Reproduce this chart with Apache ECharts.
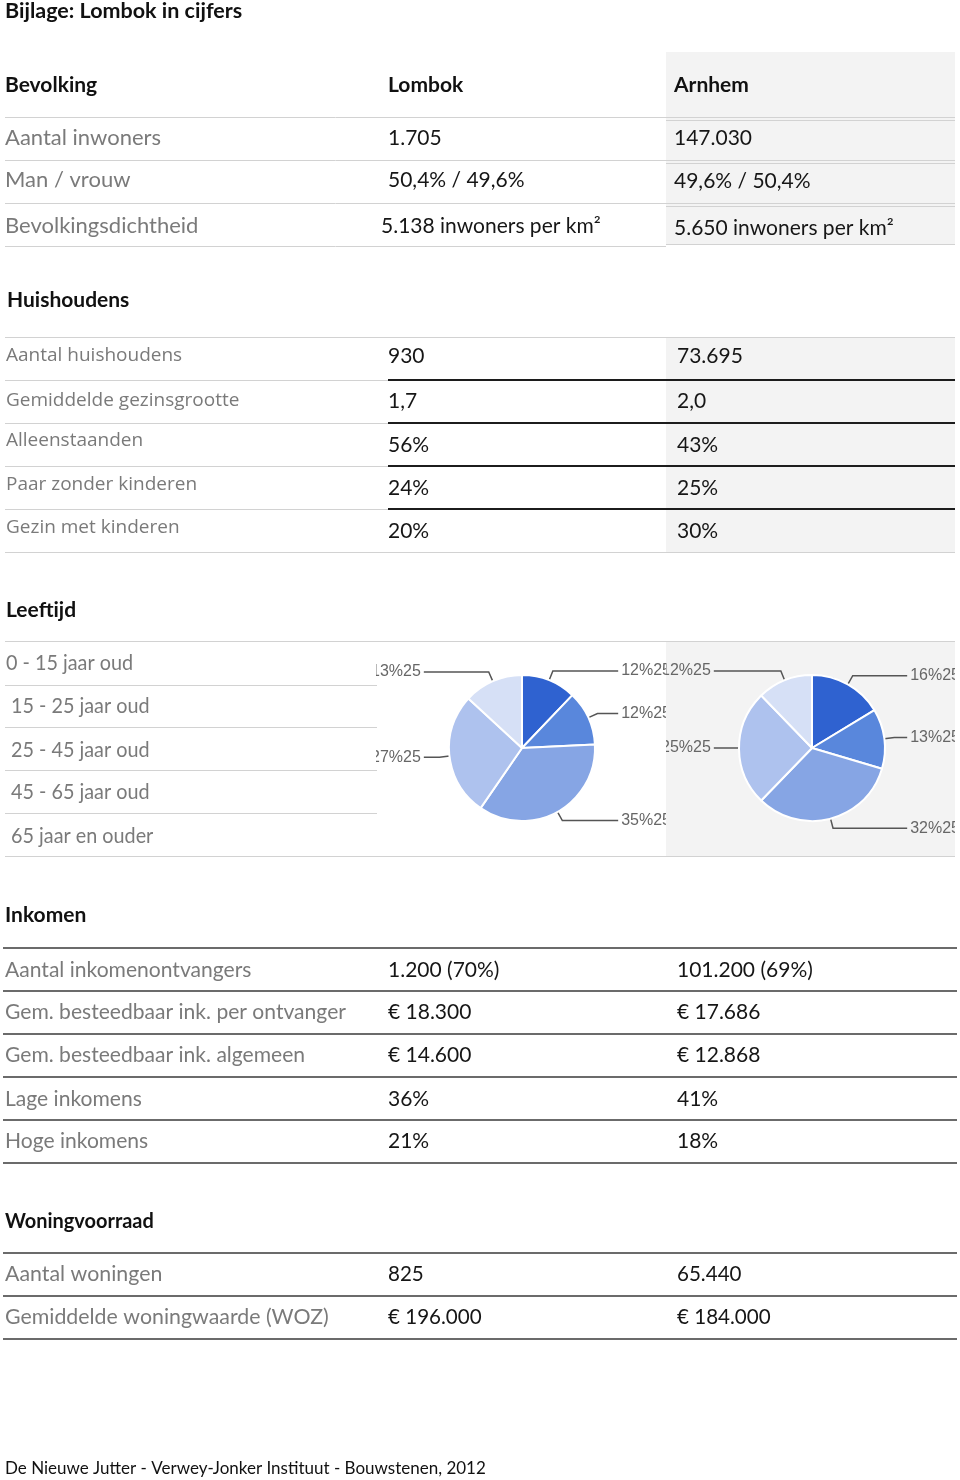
<!DOCTYPE html>
<html>
<head>
<meta charset="utf-8">
<script src="https://cdn.jsdelivr.net/npm/echarts@6/dist/echarts.min.js"></script>
<style>
  body { margin: 0; background: #fff; }
  #page { position: relative; width: 960px; height: 1480px; }
  #sheet { position: absolute; left: 0; top: 0; width: 960px; height: 1480px; }
  #pieLombok { position: absolute; left: 376px; top: 642px; width: 290px; height: 214px; }
  #pieArnhem { position: absolute; left: 666px; top: 642px; width: 289px; height: 214px; background: #f3f3f3; }
</style>
</head>
<body>
<div id="page">
  <div id="sheet"></div>
  <div id="pieLombok"></div>
  <div id="pieArnhem"></div>
</div>
<script>
const pageTitle = 'Bijlage: Lombok in cijfers'
const columnTitles = ['Lombok', 'Arnhem']
const footerText = 'De Nieuwe Jutter - Verwey-Jonker Instituut - Bouwstenen, 2012'

const bevolkingLabels = ['Aantal inwoners', 'Man / vrouw', 'Bevolkingsdichtheid']
const bevolkingLombok = ['1.705', '50,4% / 49,6%', '5.138 inwoners per km²']
const bevolkingArnhem = ['147.030', '49,6% / 50,4%', '5.650 inwoners per km²']

const huishoudensLabels = ['Aantal huishoudens', 'Gemiddelde gezinsgrootte', 'Alleenstaanden', 'Paar zonder kinderen', 'Gezin met kinderen']
const huishoudensLombok = ['930', '1,7', '56%', '24%', '20%']
const huishoudensArnhem = ['73.695', '2,0', '43%', '25%', '30%']

const leeftijdLabels = ['0 - 15 jaar oud', '15 - 25 jaar oud', '25 - 45 jaar oud', '45 - 65 jaar oud', '65 jaar en ouder']
const leeftijdLombok = [12, 12, 35, 27, 13]
const leeftijdArnhem = [16, 13, 32, 25, 12]

const inkomenLabels = ['Aantal inkomenontvangers', 'Gem. besteedbaar ink. per ontvanger', 'Gem. besteedbaar ink. algemeen', 'Lage inkomens', 'Hoge inkomens']
const inkomenLombok = ['1.200 (70%)', '€ 18.300', '€ 14.600', '36%', '21%']
const inkomenArnhem = ['101.200 (69%)', '€ 17.686', '€ 12.868', '41%', '18%']

const woningLabels = ['Aantal woningen', 'Gemiddelde woningwaarde (WOZ)']
const woningLombok = ['825', '€ 196.000']
const woningArnhem = ['65.440', '€ 184.000']

const pieColors = ['#2f62d0', '#5987dc', '#86a5e4', '#aec2ee', '#d6e0f6']

const LABEL_GREY = '#7a7a7a'
const VALUE_BLACK = '#161616'
const SOFT_LINE = '#d2d2d2'
const DARK_LINE = '#3a3a3a'

const els = []

const text = (x, y, str, font, fill, scaleX) => {
  els.push({
    type: 'text', x, y, z: 2, silent: true,
    scaleX: scaleX || 1,
    style: { text: str, font, fill, align: 'left', verticalAlign: 'middle' }
  })
}
const line = (x1, y1, x2, y2, stroke, width) => {
  els.push({
    type: 'line', z: 1, silent: true,
    shape: { x1, y1, x2, y2 },
    style: { stroke, lineWidth: width || 1 }
  })
}
const rect = (x, y, width, height, fill) => {
  els.push({ type: 'rect', z: 0, silent: true, shape: { x, y, width, height }, style: { fill } })
}

const HEAD_FONT = 'bold 21px Lato'
const LABEL_FONT = '22px Lato'
const BODY_FONT = '21px Lato'

// titel
text(5, 11, pageTitle, 'bold 21.5px Lato', '#111')

// Bevolking
rect(666, 52, 289, 193, '#f3f3f3')
text(5, 85, 'Bevolking', HEAD_FONT, '#111')
text(388, 85, columnTitles[0], HEAD_FONT, '#111')
text(674, 85, columnTitles[1], HEAD_FONT, '#111')
;[117.5, 160.5, 203.5, 246.5].forEach(y => line(5, y, 666, y, SOFT_LINE))
;[[117.5, 120.5], [160.5, 163.5], [203.5, 206.5], [244.5]].forEach(ys => ys.forEach(y => line(666, y, 955, y, SOFT_LINE)))
const bevY = [138, 180, 226]
const bevYArnhem = [138, 181, 228]
bevolkingLabels.forEach((l, i) => {
  text(5, bevY[i], l, LABEL_FONT, LABEL_GREY)
  text(i === 2 ? 381 : 388, bevY[i], bevolkingLombok[i], BODY_FONT, VALUE_BLACK)
  text(674, bevYArnhem[i], bevolkingArnhem[i], BODY_FONT, VALUE_BLACK)
})

// Huishoudens
rect(666, 338, 289, 214, '#f3f3f3')
text(7, 300, 'Huishoudens', HEAD_FONT, '#111')
line(5, 337.5, 955, 337.5, SOFT_LINE)
;[380, 423, 466, 509].forEach(y => {
  line(5, y + 0.5, 388, y + 0.5, SOFT_LINE)
  line(388, y, 955, y, '#1c1c1c', 2)
})
line(5, 552.5, 955, 552.5, SOFT_LINE)
const huisLabelY = [356, 401, 441, 485, 528]
const huisValueY = [356, 401, 445, 488, 531]
huishoudensLabels.forEach((l, i) => {
  text(6, huisLabelY[i], l, '19px "Open Sans"', LABEL_GREY)
  text(388, huisValueY[i], huishoudensLombok[i], BODY_FONT, VALUE_BLACK)
  text(677, huisValueY[i], huishoudensArnhem[i], BODY_FONT, VALUE_BLACK)
})

// Leeftijd
text(6, 610, 'Leeftijd', HEAD_FONT, '#111')
line(5, 641.5, 955, 641.5, SOFT_LINE)
;[685.5, 727.5, 770.5, 813.5].forEach(y => line(5, y, 377, y, SOFT_LINE))
line(5, 856.5, 955, 856.5, SOFT_LINE)
const leefY = [663, 706, 750, 792, 836]
leeftijdLabels.forEach((l, i) => {
  text(i === 0 ? 6 : 11, leefY[i], l, LABEL_FONT, LABEL_GREY, 0.9)
})

// Inkomen
text(5, 915, 'Inkomen', HEAD_FONT, '#111')
;[948, 991, 1034, 1077, 1120, 1163].forEach(y => line(3, y, 957, y, DARK_LINE, 1.5))
const inkY = [970, 1012, 1055, 1099, 1141]
inkomenLabels.forEach((l, i) => {
  text(5, inkY[i], l, '21.5px Lato', LABEL_GREY, 0.98)
  text(388, inkY[i], inkomenLombok[i], BODY_FONT, VALUE_BLACK)
  text(677, inkY[i], inkomenArnhem[i], BODY_FONT, VALUE_BLACK)
})

// Woningvoorraad
text(5, 1221, 'Woningvoorraad', HEAD_FONT, '#111', 0.95)
;[1253, 1296, 1339].forEach(y => line(3, y, 957, y, DARK_LINE, 1.5))
const wonY = [1274, 1317]
woningLabels.forEach((l, i) => {
  text(5, wonY[i], l, LABEL_FONT, LABEL_GREY, 0.97)
  text(388, wonY[i], woningLombok[i], BODY_FONT, VALUE_BLACK, 0.98)
  text(677, wonY[i], woningArnhem[i], BODY_FONT, VALUE_BLACK, 0.98)
})

// voetregel
text(5, 1469, footerText, '17px Lato', '#111')

const sheet = echarts.init(document.getElementById('sheet'))
sheet.setOption({
  animation: false,
  graphic: { elements: els }
})

const pieOption = (values) => ({
  animation: false,
  color: pieColors,
  series: [{
    type: 'pie',
    center: [146, 106],
    radius: 73,
    startAngle: 90,
    clockwise: true,
    emphasis: { disabled: true },
    itemStyle: { borderColor: '#fff', borderWidth: 2 },
    label: {
      formatter: '{c}%25',
      color: '#666',
      fontFamily: 'Liberation Sans',
      fontSize: 16,
      alignTo: 'edge',
      edgeDistance: -5,
      distanceToLabelLine: 3
    },
    labelLine: {
      length: 10,
      length2: 10,
      lineStyle: { color: '#555', width: 1.5 }
    },
    data: leeftijdLabels.map((name, i) => ({ name, value: values[i] }))
  }]
})

const pieL = echarts.init(document.getElementById('pieLombok'))
pieL.setOption(pieOption(leeftijdLombok))
const pieA = echarts.init(document.getElementById('pieArnhem'))
pieA.setOption(pieOption(leeftijdArnhem))
</script>
</body>
</html>
